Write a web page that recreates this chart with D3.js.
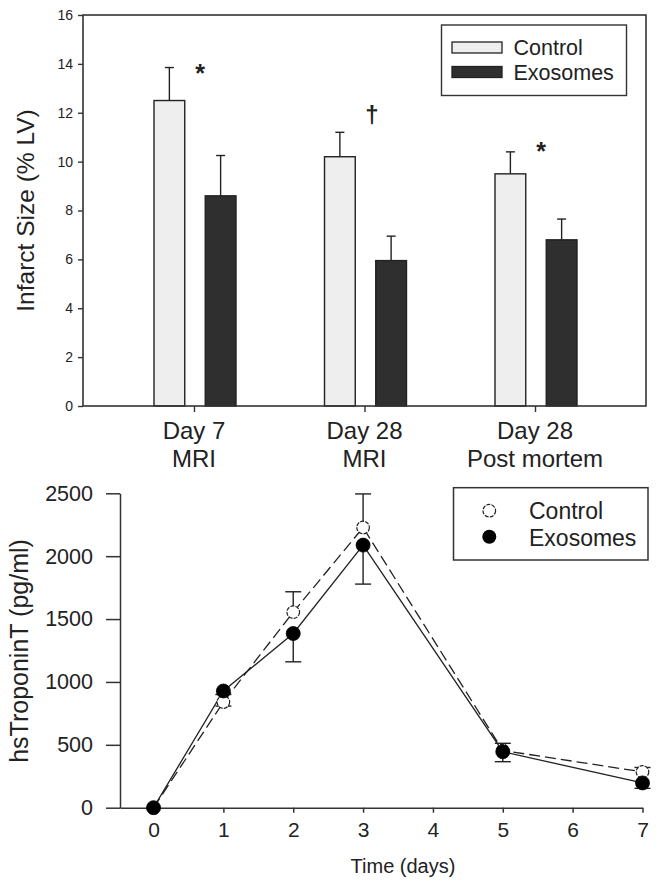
<!DOCTYPE html>
<html>
<head>
<meta charset="utf-8">
<script src="https://cdn.jsdelivr.net/npm/d3@7"></script>
<style>
  html, body { margin: 0; padding: 0; background: #fff; }
  svg { display: block; font-family: "Liberation Sans", Arial, sans-serif; }
</style>
</head>
<body>
<svg id="chart" width="661" height="888"></svg>
<script>
// ---------- Data: top panel (infarct size) ----------
const barCategories = ["Day 7 MRI", "Day 28 MRI", "Day 28 Post mortem"];
const barLabelLine1 = ["Day 7", "Day 28", "Day 28"];
const barLabelLine2 = ["MRI", "MRI", "Post mortem"];
const barSeries = ["Control", "Exosomes"];
const controlInfarct = [12.5, 10.2, 9.5];
const controlInfarctErr = [1.35, 1.0, 0.9];
const exosomeInfarct = [8.6, 5.95, 6.8];
const exosomeInfarctErr = [1.65, 1.0, 0.85];
const significance = ["*", "\u2020", "*"];
const significanceLevel = [13.85, 11.85, 10.65];
const barYTicks = [0, 2, 4, 6, 8, 10, 12, 14, 16];

// ---------- Data: bottom panel (hsTroponinT) ----------
const days = [0, 1, 2, 3, 5, 7];
const controlTroponin = [0, 840, 1555, 2228, 455, 285];
const controlTroponinUpper = [0, 900, 1717, 2495, 512, 320];
const exosomeTroponin = [0, 928, 1385, 2088, 445, 197];
const exosomeTroponinLower = [0, 808, 1160, 1778, 366, 154];
const lineXTicks = [0, 1, 2, 3, 4, 5, 6, 7];
const lineYTicks = [0, 500, 1000, 1500, 2000, 2500];

const svg = d3.select("#chart");
const ink = "#222";
const lightFill = "#eeeeee";
const darkFill = "#2f2f2f";
const FONT = "Liberation Sans, Arial, sans-serif";

// ================= TOP PANEL =================
const topBox = { left: 83, right: 646, top: 15, bottom: 406 };
const x0 = d3.scalePoint().domain(barCategories).range([topBox.left, topBox.right]).padding(0.651);
const x1 = d3.scaleBand().domain(barSeries).range([-40, 42]).paddingInner(0.4);
const yBar = d3.scaleLinear().domain([0, 16]).range([topBox.bottom, topBox.top]);

const barData = [];
barCategories.forEach((c, i) => {
  barData.push({ cat: c, s: "Control", v: controlInfarct[i], e: controlInfarctErr[i] });
  barData.push({ cat: c, s: "Exosomes", v: exosomeInfarct[i], e: exosomeInfarctErr[i] });
});

const gTop = svg.append("g");

// error bars (upper only)
const eb = gTop.append("g").attr("stroke", ink).attr("stroke-width", 1.4);
barData.forEach(d => {
  const cx = x0(d.cat) + x1(d.s) + x1.bandwidth() / 2;
  eb.append("line").attr("x1", cx).attr("x2", cx).attr("y1", yBar(d.v)).attr("y2", yBar(d.v + d.e));
  eb.append("line").attr("x1", cx - 4.5).attr("x2", cx + 4.5).attr("y1", yBar(d.v + d.e)).attr("y2", yBar(d.v + d.e));
});

// bars
gTop.append("g").selectAll("rect").data(barData).join("rect")
  .attr("x", d => x0(d.cat) + x1(d.s))
  .attr("width", x1.bandwidth())
  .attr("y", d => yBar(d.v))
  .attr("height", d => yBar(0) - yBar(d.v))
  .attr("fill", d => d.s === "Control" ? lightFill : darkFill)
  .attr("stroke", ink).attr("stroke-width", 1.4);

// frame
gTop.append("rect")
  .attr("x", topBox.left).attr("y", topBox.top)
  .attr("width", topBox.right - topBox.left).attr("height", topBox.bottom - topBox.top)
  .attr("fill", "none").attr("stroke", "#333").attr("stroke-width", 1.6);

// y axis
const yAxisTop = gTop.append("g").attr("transform", `translate(${topBox.left},0)`)
  .call(d3.axisLeft(yBar).tickValues(barYTicks).tickSize(5).tickPadding(5).tickFormat(d3.format("d")));
yAxisTop.select(".domain").remove();
yAxisTop.selectAll("line").attr("stroke", "#333").attr("stroke-width", 1.4);
yAxisTop.selectAll("text").attr("font-size", 14).attr("fill", ink).attr("font-family", FONT);

// x axis ticks
const xAxisTop = gTop.append("g").attr("transform", `translate(0,${topBox.bottom})`)
  .call(d3.axisBottom(x0).tickSize(6).tickFormat(""));
xAxisTop.select(".domain").remove();
xAxisTop.selectAll("line").attr("stroke", "#333").attr("stroke-width", 1.4);

// category labels (two lines)
barCategories.forEach((c, i) => {
  const t = gTop.append("text").attr("x", x0(c)).attr("text-anchor", "middle")
    .attr("font-size", 24).attr("fill", ink);
  t.append("tspan").attr("x", x0(c)).attr("y", 439).text(barLabelLine1[i]);
  t.append("tspan").attr("x", x0(c)).attr("y", 467).text(barLabelLine2[i]);
});

// significance markers
barCategories.forEach((c, i) => {
  const isDagger = significance[i] === "\u2020";
  gTop.append("text")
    .attr("x", x0(c) + (isDagger ? 7.5 : 6))
    .attr("y", yBar(significanceLevel[i]) + (isDagger ? 6.5 : 14))
    .attr("text-anchor", "middle")
    .attr("font-size", isDagger ? 24 : 25)
    .attr("font-weight", "bold")
    .attr("fill", ink)
    .text(significance[i]);
});

// y title
gTop.append("text")
  .attr("transform", `translate(34,${(topBox.top + topBox.bottom) / 2}) rotate(-90)`)
  .attr("text-anchor", "middle").attr("font-size", 24.5).attr("fill", ink)
  .text("Infarct Size (% LV)");

// legend
const lgTop = gTop.append("g");
lgTop.append("rect").attr("x", 441.5).attr("y", 25).attr("width", 185).attr("height", 70.5)
  .attr("fill", "#fff").attr("stroke", "#333").attr("stroke-width", 1.4);
barSeries.forEach((s, i) => {
  lgTop.append("rect").attr("x", 452).attr("y", 42 + i * 24.5).attr("width", 50).attr("height", 11)
    .attr("fill", s === "Control" ? lightFill : darkFill).attr("stroke", ink).attr("stroke-width", 1.3);
  lgTop.append("text").attr("x", 513.5).attr("y", 55 + i * 24.5).attr("font-size", 21.5).attr("fill", ink).text(s);
});

// ================= BOTTOM PANEL =================
const botBox = { left: 120, right: 642.5, top: 493.3, bottom: 807.7 };
const xLine = d3.scaleLinear().domain([-0.48, 7]).range([botBox.left, botBox.right]);
const yLine = d3.scaleLinear().domain([0, 2500]).range([botBox.bottom, botBox.top]);
const gBot = svg.append("g");

// axes
const yAxisBot = gBot.append("g").attr("transform", `translate(${botBox.left},0)`)
  .call(d3.axisLeft(yLine).tickValues(lineYTicks).tickSize(14).tickPadding(13).tickSizeOuter(0).tickFormat(d3.format("d")));
yAxisBot.select(".domain").attr("stroke", "#333").attr("stroke-width", 1.5);
yAxisBot.selectAll("line").attr("stroke", "#333").attr("stroke-width", 1.5);
yAxisBot.selectAll("text").attr("font-size", 21.5).attr("fill", ink).attr("font-family", FONT);

const xAxisBot = gBot.append("g").attr("transform", `translate(0,${botBox.bottom})`)
  .call(d3.axisBottom(xLine).tickValues(lineXTicks).tickSize(5).tickPadding(9).tickSizeOuter(0).tickFormat(d3.format("d")));
xAxisBot.select(".domain").attr("stroke", "#333").attr("stroke-width", 1.5);
xAxisBot.selectAll("line").attr("stroke", "#333").attr("stroke-width", 1.5);
xAxisBot.selectAll("text").attr("font-size", 21).attr("fill", ink).attr("font-family", FONT);

// titles
gBot.append("text")
  .attr("transform", `translate(28,651) rotate(-90)`)
  .attr("text-anchor", "middle").attr("font-size", 25).attr("fill", ink)
  .text("hsTroponinT (pg/ml)");
gBot.append("text").attr("x", 403).attr("y", 873).attr("text-anchor", "middle")
  .attr("font-size", 20).attr("fill", ink).text("Time (days)");

// error bars
const ebB = gBot.append("g").attr("stroke", ink).attr("stroke-width", 1.4);
days.forEach((d, i) => {
  const cx = xLine(d);
  if (controlTroponinUpper[i] > controlTroponin[i]) {
    ebB.append("line").attr("x1", cx).attr("x2", cx).attr("y1", yLine(controlTroponin[i])).attr("y2", yLine(controlTroponinUpper[i]));
    ebB.append("line").attr("x1", cx - 8).attr("x2", cx + 8).attr("y1", yLine(controlTroponinUpper[i])).attr("y2", yLine(controlTroponinUpper[i]));
  }
  if (exosomeTroponinLower[i] < exosomeTroponin[i]) {
    ebB.append("line").attr("x1", cx).attr("x2", cx).attr("y1", yLine(exosomeTroponin[i])).attr("y2", yLine(exosomeTroponinLower[i]));
    ebB.append("line").attr("x1", cx - 8).attr("x2", cx + 8).attr("y1", yLine(exosomeTroponinLower[i])).attr("y2", yLine(exosomeTroponinLower[i]));
  }
});

// lines
const line = d3.line().x(d => xLine(d[0])).y(d => yLine(d[1]));
gBot.append("path").datum(days.map((d, i) => [d, controlTroponin[i]]))
  .attr("d", line).attr("fill", "none").attr("stroke", ink).attr("stroke-width", 1.3)
  .attr("stroke-dasharray", "11,5");
gBot.append("path").datum(days.map((d, i) => [d, exosomeTroponin[i]]))
  .attr("d", line).attr("fill", "none").attr("stroke", ink).attr("stroke-width", 1.3);

// markers: control (open) then exosomes (filled) on top
gBot.append("g").selectAll("circle").data(days.map((d, i) => [d, controlTroponin[i]])).join("circle")
  .attr("cx", d => xLine(d[0])).attr("cy", d => yLine(d[1])).attr("r", 6.3)
  .attr("fill", "#fff").attr("stroke", ink).attr("stroke-width", 1.2).attr("stroke-dasharray", "4,1.2");
gBot.append("g").selectAll("circle").data(days.map((d, i) => [d, exosomeTroponin[i]])).join("circle")
  .attr("cx", d => xLine(d[0])).attr("cy", d => yLine(d[1])).attr("r", 7)
  .attr("fill", "#000").attr("stroke", "#000").attr("stroke-width", 0.8);

// legend
const lgBot = gBot.append("g");
lgBot.append("rect").attr("x", 453.5).attr("y", 487.7).attr("width", 194.5).attr("height", 72.3)
  .attr("fill", "#fff").attr("stroke", "#333").attr("stroke-width", 1.5);
lgBot.append("circle").attr("cx", 489.3).attr("cy", 510.7).attr("r", 6.3)
  .attr("fill", "#fff").attr("stroke", ink).attr("stroke-width", 1.2).attr("stroke-dasharray", "4,1.2");
lgBot.append("circle").attr("cx", 489.3).attr("cy", 536.7).attr("r", 7).attr("fill", "#000");
barSeries.forEach((s, i) => {
  lgBot.append("text").attr("x", 529).attr("y", 518.7 + i * 26.8).attr("font-size", 23).attr("fill", ink).text(s);
});
</script>
</body>
</html>
